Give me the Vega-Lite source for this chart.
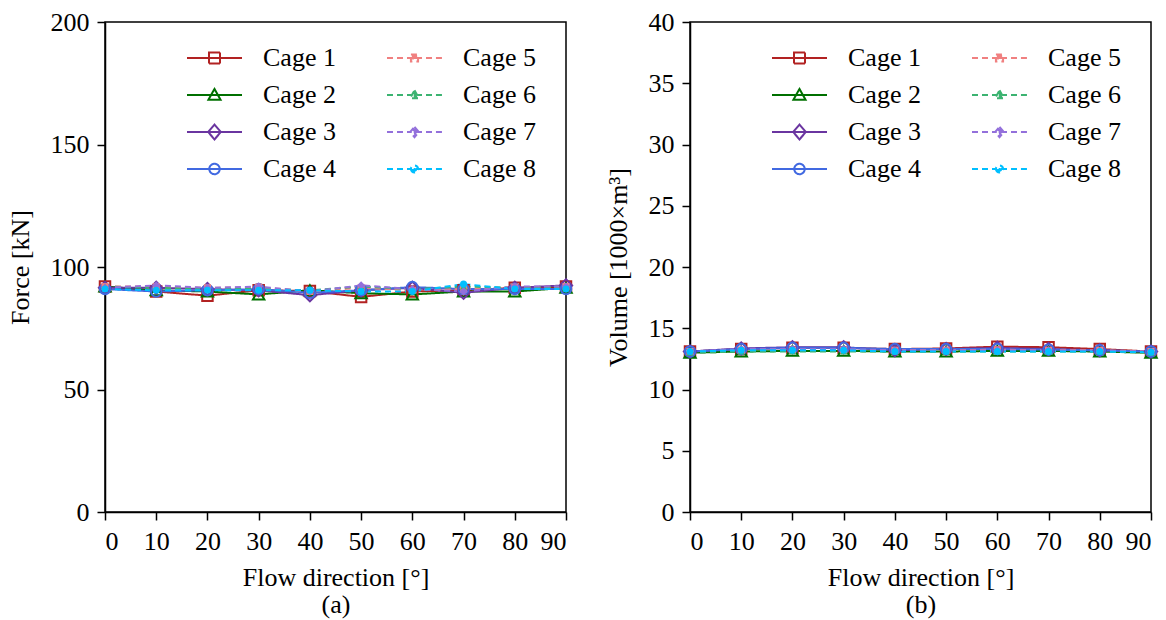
{
  "$schema": "https://vega.github.io/schema/vega-lite/v6.json",
  "background": "white",
  "padding": {"left": 6, "top": 8, "right": 10, "bottom": 2},
  "datasets": {
    "force": [
      {"cage": "Cage 1", "dir": 0, "v": 92}, {"cage": "Cage 1", "dir": 10, "v": 90}, {"cage": "Cage 1", "dir": 20, "v": 88.3}, {"cage": "Cage 1", "dir": 30, "v": 90.5}, {"cage": "Cage 1", "dir": 40, "v": 90.2}, {"cage": "Cage 1", "dir": 50, "v": 87.8}, {"cage": "Cage 1", "dir": 60, "v": 90}, {"cage": "Cage 1", "dir": 70, "v": 90.5}, {"cage": "Cage 1", "dir": 80, "v": 91.5}, {"cage": "Cage 1", "dir": 90, "v": 92},
      {"cage": "Cage 2", "dir": 0, "v": 92}, {"cage": "Cage 2", "dir": 10, "v": 90.5}, {"cage": "Cage 2", "dir": 20, "v": 90}, {"cage": "Cage 2", "dir": 30, "v": 88.8}, {"cage": "Cage 2", "dir": 40, "v": 90.5}, {"cage": "Cage 2", "dir": 50, "v": 89.3}, {"cage": "Cage 2", "dir": 60, "v": 88.8}, {"cage": "Cage 2", "dir": 70, "v": 90}, {"cage": "Cage 2", "dir": 80, "v": 90}, {"cage": "Cage 2", "dir": 90, "v": 91.5},
      {"cage": "Cage 3", "dir": 0, "v": 91.5}, {"cage": "Cage 3", "dir": 10, "v": 91.5}, {"cage": "Cage 3", "dir": 20, "v": 91}, {"cage": "Cage 3", "dir": 30, "v": 90.5}, {"cage": "Cage 3", "dir": 40, "v": 88.5}, {"cage": "Cage 3", "dir": 50, "v": 90.5}, {"cage": "Cage 3", "dir": 60, "v": 91.5}, {"cage": "Cage 3", "dir": 70, "v": 89.5}, {"cage": "Cage 3", "dir": 80, "v": 91.5}, {"cage": "Cage 3", "dir": 90, "v": 92.5},
      {"cage": "Cage 4", "dir": 0, "v": 91}, {"cage": "Cage 4", "dir": 10, "v": 90}, {"cage": "Cage 4", "dir": 20, "v": 90.5}, {"cage": "Cage 4", "dir": 30, "v": 91}, {"cage": "Cage 4", "dir": 40, "v": 89.5}, {"cage": "Cage 4", "dir": 50, "v": 90.5}, {"cage": "Cage 4", "dir": 60, "v": 91.8}, {"cage": "Cage 4", "dir": 70, "v": 91}, {"cage": "Cage 4", "dir": 80, "v": 91}, {"cage": "Cage 4", "dir": 90, "v": 91},
      {"cage": "Cage 5", "dir": 0, "v": 92}, {"cage": "Cage 5", "dir": 10, "v": 92}, {"cage": "Cage 5", "dir": 20, "v": 91.5}, {"cage": "Cage 5", "dir": 30, "v": 91.8}, {"cage": "Cage 5", "dir": 40, "v": 90}, {"cage": "Cage 5", "dir": 50, "v": 91.5}, {"cage": "Cage 5", "dir": 60, "v": 90.5}, {"cage": "Cage 5", "dir": 70, "v": 91}, {"cage": "Cage 5", "dir": 80, "v": 91.8}, {"cage": "Cage 5", "dir": 90, "v": 92},
      {"cage": "Cage 6", "dir": 0, "v": 92}, {"cage": "Cage 6", "dir": 10, "v": 91.5}, {"cage": "Cage 6", "dir": 20, "v": 91}, {"cage": "Cage 6", "dir": 30, "v": 91}, {"cage": "Cage 6", "dir": 40, "v": 90.5}, {"cage": "Cage 6", "dir": 50, "v": 92}, {"cage": "Cage 6", "dir": 60, "v": 91}, {"cage": "Cage 6", "dir": 70, "v": 92}, {"cage": "Cage 6", "dir": 80, "v": 91.5}, {"cage": "Cage 6", "dir": 90, "v": 92},
      {"cage": "Cage 7", "dir": 0, "v": 91.5}, {"cage": "Cage 7", "dir": 10, "v": 92.5}, {"cage": "Cage 7", "dir": 20, "v": 91.5}, {"cage": "Cage 7", "dir": 30, "v": 92}, {"cage": "Cage 7", "dir": 40, "v": 90}, {"cage": "Cage 7", "dir": 50, "v": 92.5}, {"cage": "Cage 7", "dir": 60, "v": 91}, {"cage": "Cage 7", "dir": 70, "v": 90}, {"cage": "Cage 7", "dir": 80, "v": 92}, {"cage": "Cage 7", "dir": 90, "v": 92},
      {"cage": "Cage 8", "dir": 0, "v": 91}, {"cage": "Cage 8", "dir": 10, "v": 90.5}, {"cage": "Cage 8", "dir": 20, "v": 90.5}, {"cage": "Cage 8", "dir": 30, "v": 90.5}, {"cage": "Cage 8", "dir": 40, "v": 90.5}, {"cage": "Cage 8", "dir": 50, "v": 90}, {"cage": "Cage 8", "dir": 60, "v": 90}, {"cage": "Cage 8", "dir": 70, "v": 93}, {"cage": "Cage 8", "dir": 80, "v": 91}, {"cage": "Cage 8", "dir": 90, "v": 91}
    ],
    "volume": [
      {"cage": "Cage 1", "dir": 0, "v": 13.1}, {"cage": "Cage 1", "dir": 10, "v": 13.3}, {"cage": "Cage 1", "dir": 20, "v": 13.4}, {"cage": "Cage 1", "dir": 30, "v": 13.4}, {"cage": "Cage 1", "dir": 40, "v": 13.3}, {"cage": "Cage 1", "dir": 50, "v": 13.35}, {"cage": "Cage 1", "dir": 60, "v": 13.5}, {"cage": "Cage 1", "dir": 70, "v": 13.45}, {"cage": "Cage 1", "dir": 80, "v": 13.3}, {"cage": "Cage 1", "dir": 90, "v": 13.1},
      {"cage": "Cage 2", "dir": 0, "v": 13.0}, {"cage": "Cage 2", "dir": 10, "v": 13.1}, {"cage": "Cage 2", "dir": 20, "v": 13.15}, {"cage": "Cage 2", "dir": 30, "v": 13.15}, {"cage": "Cage 2", "dir": 40, "v": 13.1}, {"cage": "Cage 2", "dir": 50, "v": 13.1}, {"cage": "Cage 2", "dir": 60, "v": 13.15}, {"cage": "Cage 2", "dir": 70, "v": 13.15}, {"cage": "Cage 2", "dir": 80, "v": 13.1}, {"cage": "Cage 2", "dir": 90, "v": 13.0},
      {"cage": "Cage 3", "dir": 0, "v": 13.1}, {"cage": "Cage 3", "dir": 10, "v": 13.35}, {"cage": "Cage 3", "dir": 20, "v": 13.45}, {"cage": "Cage 3", "dir": 30, "v": 13.45}, {"cage": "Cage 3", "dir": 40, "v": 13.2}, {"cage": "Cage 3", "dir": 50, "v": 13.3}, {"cage": "Cage 3", "dir": 60, "v": 13.4}, {"cage": "Cage 3", "dir": 70, "v": 13.3}, {"cage": "Cage 3", "dir": 80, "v": 13.2}, {"cage": "Cage 3", "dir": 90, "v": 13.1},
      {"cage": "Cage 4", "dir": 0, "v": 13.1}, {"cage": "Cage 4", "dir": 10, "v": 13.3}, {"cage": "Cage 4", "dir": 20, "v": 13.4}, {"cage": "Cage 4", "dir": 30, "v": 13.4}, {"cage": "Cage 4", "dir": 40, "v": 13.3}, {"cage": "Cage 4", "dir": 50, "v": 13.3}, {"cage": "Cage 4", "dir": 60, "v": 13.3}, {"cage": "Cage 4", "dir": 70, "v": 13.25}, {"cage": "Cage 4", "dir": 80, "v": 13.2}, {"cage": "Cage 4", "dir": 90, "v": 13.1},
      {"cage": "Cage 5", "dir": 0, "v": 13.1}, {"cage": "Cage 5", "dir": 10, "v": 13.2}, {"cage": "Cage 5", "dir": 20, "v": 13.2}, {"cage": "Cage 5", "dir": 30, "v": 13.2}, {"cage": "Cage 5", "dir": 40, "v": 13.2}, {"cage": "Cage 5", "dir": 50, "v": 13.2}, {"cage": "Cage 5", "dir": 60, "v": 13.25}, {"cage": "Cage 5", "dir": 70, "v": 13.2}, {"cage": "Cage 5", "dir": 80, "v": 13.2}, {"cage": "Cage 5", "dir": 90, "v": 13.1},
      {"cage": "Cage 6", "dir": 0, "v": 13.0}, {"cage": "Cage 6", "dir": 10, "v": 13.1}, {"cage": "Cage 6", "dir": 20, "v": 13.1}, {"cage": "Cage 6", "dir": 30, "v": 13.1}, {"cage": "Cage 6", "dir": 40, "v": 13.1}, {"cage": "Cage 6", "dir": 50, "v": 13.1}, {"cage": "Cage 6", "dir": 60, "v": 13.1}, {"cage": "Cage 6", "dir": 70, "v": 13.1}, {"cage": "Cage 6", "dir": 80, "v": 13.1}, {"cage": "Cage 6", "dir": 90, "v": 13.0},
      {"cage": "Cage 7", "dir": 0, "v": 13.1}, {"cage": "Cage 7", "dir": 10, "v": 13.3}, {"cage": "Cage 7", "dir": 20, "v": 13.3}, {"cage": "Cage 7", "dir": 30, "v": 13.3}, {"cage": "Cage 7", "dir": 40, "v": 13.2}, {"cage": "Cage 7", "dir": 50, "v": 13.2}, {"cage": "Cage 7", "dir": 60, "v": 13.2}, {"cage": "Cage 7", "dir": 70, "v": 13.2}, {"cage": "Cage 7", "dir": 80, "v": 13.15}, {"cage": "Cage 7", "dir": 90, "v": 13.1},
      {"cage": "Cage 8", "dir": 0, "v": 13.1}, {"cage": "Cage 8", "dir": 10, "v": 13.2}, {"cage": "Cage 8", "dir": 20, "v": 13.2}, {"cage": "Cage 8", "dir": 30, "v": 13.2}, {"cage": "Cage 8", "dir": 40, "v": 13.1}, {"cage": "Cage 8", "dir": 50, "v": 13.1}, {"cage": "Cage 8", "dir": 60, "v": 13.1}, {"cage": "Cage 8", "dir": 70, "v": 13.1}, {"cage": "Cage 8", "dir": 80, "v": 13.1}, {"cage": "Cage 8", "dir": 90, "v": 13.05}
    ]
  },
  "config": {
    "font": "Liberation Serif",
    "view": {"stroke": "black", "strokeWidth": 1.5},
    "axis": {
      "grid": false,
      "domainColor": "black",
      "domainWidth": 1.5,
      "tickColor": "black",
      "tickWidth": 1.5,
      "tickSize": 8,
      "labelFont": "Liberation Serif",
      "labelFontSize": 26,
      "labelColor": "black",
      "labelPadding": 8,
      "titleFont": "Liberation Serif",
      "titleFontSize": 26,
      "titleFontWeight": "normal",
      "titleColor": "black"
    },
    "legend": {
      "labelFont": "Liberation Serif",
      "labelFontSize": 26,
      "labelColor": "black",
      "symbolStrokeWidth": 2,
      "symbolSize": 3025,
      "symbolFillColor": "transparent",
      "labelOffset": 20,
      "columnPadding": 50,
      "rowPadding": 7,
      "clipHeight": 30,
      "padding": 0
    }
  },
  "resolve": {
    "scale": {"color": "independent", "shape": "independent", "strokeDash": "independent"},
    "legend": {"color": "independent", "shape": "independent", "strokeDash": "independent"}
  },
  "spacing": 27,
  "hconcat": [
    {
      "width": 461,
      "height": 490,
      "data": {"name": "force"},
      "encoding": {
        "x": {"field": "dir", "type": "quantitative", "scale": {"domain": [0, 90], "nice": false}, "axis": {"values": [0, 10, 20, 30, 40, 50, 60, 70, 80, 90], "title": ["Flow direction [°]", "(a)"], "titleLineHeight": 27, "titlePadding": 10}},
        "y": {"field": "v", "type": "quantitative", "scale": {"domain": [0, 200], "nice": false}, "axis": {"values": [0, 50, 100, 150, 200], "title": "Force [kN]", "titlePadding": 17}}
      },
      "layer": [
        {
          "transform": [{"filter": "false"}],
          "mark": {"type": "point", "opacity": 1, "strokeWidth": 2, "filled": false},
          "encoding": {
            "color": {"field": "cage", "type": "nominal", "title": null, "legend": {"orient": "none", "legendX": 81, "legendY": 21, "columns": 2, "title": null, "symbolFillColor": "transparent"}, "scale": {"domain": ["Cage 1", "Cage 2", "Cage 3", "Cage 4", "Cage 5", "Cage 6", "Cage 7", "Cage 8"], "range": ["#b22222", "#007000", "#6a35a0", "#4169e1", "#f08080", "#3cb371", "#9370db", "#00bfff"]}},
            "shape": {"field": "cage", "type": "nominal", "title": null, "scale": {"domain": ["Cage 1", "Cage 2", "Cage 3", "Cage 4", "Cage 5", "Cage 6", "Cage 7", "Cage 8"], "range": [
              "M-1,0H1M-0.2,-0.2H0.2V0.2H-0.2Z",
              "M-1,0H1M-0.22,0.17L0,-0.22L0.22,0.17Z",
              "M-1,0H1M0,-0.27L0.23,0L0,0.27L-0.23,0Z",
              "M-1,0H1M-0.19,0A0.19,0.19,0,1,0,0.19,0A0.19,0.19,0,1,0,-0.19,0Z",
              "M-1,0H-0.78M-0.636,0H-0.418M-0.273,0H-0.1M0.1,0H0.273M0.418,0H0.636M0.78,0H1M-0.13,-0.13H0.13V0.13H-0.13ZM-0.06,-0.06H0.06V0.06H-0.06ZM-0.03,0H0.03",
              "M-1,0H-0.78M-0.636,0H-0.418M-0.273,0H-0.1M0.1,0H0.273M0.418,0H0.636M0.78,0H1M0,-0.17L0.16,0.12L-0.16,0.12ZM0,-0.06L0.06,0.06L-0.06,0.06ZM-0.03,0.03H0.03",
              "M-1,0H-0.78M-0.636,0H-0.418M-0.273,0H-0.1M0.1,0H0.273M0.418,0H0.636M0.78,0H1M0,-0.19L0.16,0L0,0.19L-0.16,0ZM0,-0.08L0.07,0L0,0.08L-0.07,0ZM-0.03,0H0.03",
              "M-1,0H-0.78M-0.636,0H-0.418M-0.273,0H-0.1M0.1,0H0.273M0.418,0H0.636M0.78,0H1M-0.13,0A0.13,0.13,0,1,0,0.13,0A0.13,0.13,0,1,0,-0.13,0ZM-0.06,0A0.06,0.06,0,1,0,0.06,0A0.06,0.06,0,1,0,-0.06,0ZM-0.03,0H0.03"
            ]}}
          }
        },
        {
          "mark": {"type": "line", "strokeWidth": 2},
          "encoding": {
            "color": {"field": "cage", "type": "nominal", "legend": null},
            "strokeDash": {"field": "cage", "type": "nominal", "legend": null, "scale": {"domain": ["Cage 1", "Cage 2", "Cage 3", "Cage 4", "Cage 5", "Cage 6", "Cage 7", "Cage 8"], "range": [[1, 0], [1, 0], [1, 0], [1, 0], [6, 4], [6, 4], [6, 4], [6, 4]]}}
          }
        },
        {"transform": [{"filter": "datum.cage === 'Cage 1'"}], "mark": {"type": "point", "shape": "square", "size": 110, "filled": false, "strokeWidth": 2, "opacity": 1, "color": "#b22222"}, "encoding": {}},
        {"transform": [{"filter": "datum.cage === 'Cage 2'"}], "mark": {"type": "point", "shape": "triangle-up", "size": 130, "filled": false, "strokeWidth": 2, "opacity": 1, "color": "#007000"}, "encoding": {}},
        {"transform": [{"filter": "datum.cage === 'Cage 3'"}], "mark": {"type": "point", "shape": "diamond", "size": 150, "filled": false, "strokeWidth": 2, "opacity": 1, "color": "#6a35a0"}, "encoding": {}},
        {"transform": [{"filter": "datum.cage === 'Cage 4'"}], "mark": {"type": "point", "shape": "circle", "size": 110, "filled": false, "strokeWidth": 2, "opacity": 1, "color": "#4169e1"}, "encoding": {}},
        {"transform": [{"filter": "datum.cage === 'Cage 5'"}], "mark": {"type": "point", "shape": "square", "size": 50, "filled": true, "opacity": 1, "color": "#f08080"}, "encoding": {}},
        {"transform": [{"filter": "datum.cage === 'Cage 6'"}], "mark": {"type": "point", "shape": "triangle-up", "size": 50, "filled": true, "opacity": 1, "color": "#3cb371"}, "encoding": {}},
        {"transform": [{"filter": "datum.cage === 'Cage 7'"}], "mark": {"type": "point", "shape": "diamond", "size": 70, "filled": true, "opacity": 1, "color": "#9370db"}, "encoding": {}},
        {"transform": [{"filter": "datum.cage === 'Cage 8'"}], "mark": {"type": "point", "shape": "circle", "size": 50, "filled": true, "opacity": 1, "color": "#00bfff"}, "encoding": {}}
      ]
    },
    {
      "width": 461,
      "height": 490,
      "data": {"name": "volume"},
      "encoding": {
        "x": {"field": "dir", "type": "quantitative", "scale": {"domain": [0, 90], "nice": false}, "axis": {"values": [0, 10, 20, 30, 40, 50, 60, 70, 80, 90], "title": ["Flow direction [°]", "(b)"], "titleLineHeight": 27, "titlePadding": 10}},
        "y": {"field": "v", "type": "quantitative", "scale": {"domain": [0, 40], "nice": false}, "axis": {"values": [0, 5, 10, 15, 20, 25, 30, 35, 40], "title": "Volume [1000×m³]", "titlePadding": 17}}
      },
      "layer": [
        {
          "transform": [{"filter": "false"}],
          "mark": {"type": "point", "opacity": 1, "strokeWidth": 2, "filled": false},
          "encoding": {
            "color": {"field": "cage", "type": "nominal", "title": null, "legend": {"orient": "none", "legendX": 81, "legendY": 21, "columns": 2, "title": null, "symbolFillColor": "transparent"}, "scale": {"domain": ["Cage 1", "Cage 2", "Cage 3", "Cage 4", "Cage 5", "Cage 6", "Cage 7", "Cage 8"], "range": ["#b22222", "#007000", "#6a35a0", "#4169e1", "#f08080", "#3cb371", "#9370db", "#00bfff"]}},
            "shape": {"field": "cage", "type": "nominal", "title": null, "scale": {"domain": ["Cage 1", "Cage 2", "Cage 3", "Cage 4", "Cage 5", "Cage 6", "Cage 7", "Cage 8"], "range": [
              "M-1,0H1M-0.2,-0.2H0.2V0.2H-0.2Z",
              "M-1,0H1M-0.22,0.17L0,-0.22L0.22,0.17Z",
              "M-1,0H1M0,-0.27L0.23,0L0,0.27L-0.23,0Z",
              "M-1,0H1M-0.19,0A0.19,0.19,0,1,0,0.19,0A0.19,0.19,0,1,0,-0.19,0Z",
              "M-1,0H-0.78M-0.636,0H-0.418M-0.273,0H-0.1M0.1,0H0.273M0.418,0H0.636M0.78,0H1M-0.13,-0.13H0.13V0.13H-0.13ZM-0.06,-0.06H0.06V0.06H-0.06ZM-0.03,0H0.03",
              "M-1,0H-0.78M-0.636,0H-0.418M-0.273,0H-0.1M0.1,0H0.273M0.418,0H0.636M0.78,0H1M0,-0.17L0.16,0.12L-0.16,0.12ZM0,-0.06L0.06,0.06L-0.06,0.06ZM-0.03,0.03H0.03",
              "M-1,0H-0.78M-0.636,0H-0.418M-0.273,0H-0.1M0.1,0H0.273M0.418,0H0.636M0.78,0H1M0,-0.19L0.16,0L0,0.19L-0.16,0ZM0,-0.08L0.07,0L0,0.08L-0.07,0ZM-0.03,0H0.03",
              "M-1,0H-0.78M-0.636,0H-0.418M-0.273,0H-0.1M0.1,0H0.273M0.418,0H0.636M0.78,0H1M-0.13,0A0.13,0.13,0,1,0,0.13,0A0.13,0.13,0,1,0,-0.13,0ZM-0.06,0A0.06,0.06,0,1,0,0.06,0A0.06,0.06,0,1,0,-0.06,0ZM-0.03,0H0.03"
            ]}}
          }
        },
        {
          "mark": {"type": "line", "strokeWidth": 2},
          "encoding": {
            "color": {"field": "cage", "type": "nominal", "legend": null},
            "strokeDash": {"field": "cage", "type": "nominal", "legend": null, "scale": {"domain": ["Cage 1", "Cage 2", "Cage 3", "Cage 4", "Cage 5", "Cage 6", "Cage 7", "Cage 8"], "range": [[1, 0], [1, 0], [1, 0], [1, 0], [6, 4], [6, 4], [6, 4], [6, 4]]}}
          }
        },
        {"transform": [{"filter": "datum.cage === 'Cage 1'"}], "mark": {"type": "point", "shape": "square", "size": 110, "filled": false, "strokeWidth": 2, "opacity": 1, "color": "#b22222"}, "encoding": {}},
        {"transform": [{"filter": "datum.cage === 'Cage 2'"}], "mark": {"type": "point", "shape": "triangle-up", "size": 130, "filled": false, "strokeWidth": 2, "opacity": 1, "color": "#007000"}, "encoding": {}},
        {"transform": [{"filter": "datum.cage === 'Cage 3'"}], "mark": {"type": "point", "shape": "diamond", "size": 150, "filled": false, "strokeWidth": 2, "opacity": 1, "color": "#6a35a0"}, "encoding": {}},
        {"transform": [{"filter": "datum.cage === 'Cage 4'"}], "mark": {"type": "point", "shape": "circle", "size": 110, "filled": false, "strokeWidth": 2, "opacity": 1, "color": "#4169e1"}, "encoding": {}},
        {"transform": [{"filter": "datum.cage === 'Cage 5'"}], "mark": {"type": "point", "shape": "square", "size": 50, "filled": true, "opacity": 1, "color": "#f08080"}, "encoding": {}},
        {"transform": [{"filter": "datum.cage === 'Cage 6'"}], "mark": {"type": "point", "shape": "triangle-up", "size": 50, "filled": true, "opacity": 1, "color": "#3cb371"}, "encoding": {}},
        {"transform": [{"filter": "datum.cage === 'Cage 7'"}], "mark": {"type": "point", "shape": "diamond", "size": 70, "filled": true, "opacity": 1, "color": "#9370db"}, "encoding": {}},
        {"transform": [{"filter": "datum.cage === 'Cage 8'"}], "mark": {"type": "point", "shape": "circle", "size": 50, "filled": true, "opacity": 1, "color": "#00bfff"}, "encoding": {}}
      ]
    }
  ]
}
